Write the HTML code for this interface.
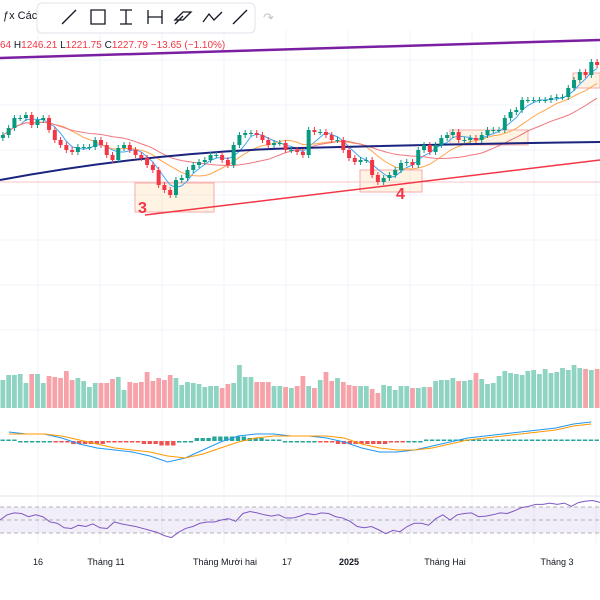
<!DOCTYPE html>
<html><head><meta charset="utf-8"><style>
body{margin:0;width:600px;height:600px;overflow:hidden;background:#fff;font-family:"Liberation Sans",sans-serif}
svg{position:absolute;left:0;top:0}
</style></head><body>
<svg id="c" width="600" height="600"></svg>
<script>
const closes=[1255,1262,1272,1272,1275,1265,1270,1272,1260,1250,1245,1240,1238,1243,1243,1243,1250,1245,1235,1230,1242,1245,1240,1235,1232,1225,1220,1205,1200,1195,1210,1212,1220,1225,1228,1230,1235,1235,1230,1225,1245,1255,1257,1257,1255,1250,1245,1247,1247,1240,1240,1238,1235,1260,1258,1258,1255,1250,1250,1240,1232,1228,1230,1230,1215,1208,1212,1215,1220,1227,1228,1225,1240,1245,1238,1245,1252,1255,1258,1250,1250,1252,1250,1255,1260,1260,1260,1272,1278,1280,1290,1290,1290,1290,1290,1292,1293,1293,1302,1310,1318,1315,1328,1325];
const volumes=[28,33,33,34,25,34,34,25,32,31,30,37,28,30,27,21,25,25,25,29,31,18,26,25,26,36,27,30,28,33,30,23,26,25,24,21,22,22,20,24,25,43,31,31,26,26,26,22,22,21,20,22,32,22,20,28,36,27,30,26,23,22,22,22,19,15,23,22,18,22,22,20,20,21,21,27,28,28,30,27,27,28,35,29,24,25,32,37,35,34,33,37,38,34,39,35,36,40,38,43,40,39,38,39];
const rsi=[50,58,61,60,55,58,55,47,45,38,37,42,40,44,38,37,47,44,42,40,37,34,31,26,23,31,37,40,45,47,47,50,52,48,60,63,61,58,56,58,53,53,56,60,58,61,60,55,53,48,40,38,40,35,29,34,32,40,45,45,42,52,58,50,58,60,61,55,56,58,61,60,64,69,71,74,74,76,74,76,71,77,79,80,77];
const macd=[4,3,3,1,-2,-4,-5,-6,-8,-11,-9,-5,-1,2,3,3,2,2,1,-1,-4,-6,-6,-5,-3,-1,1,2,3,4,5,6,8,9];
const signal=[3,3,3,2,0,-2,-4,-5,-6,-8,-9,-7,-4,-1,1,2,2,2,2,1,-2,-4,-5,-5,-4,-2,0,1,2,3,4,5,7,8];
const xLabels=[["16",38],["Tháng 11",106],["Tháng Mười hai",225],["17",287],["2025",349],["Tháng Hai",445],["Tháng 3",557]];
const NS="http://www.w3.org/2000/svg",svg=document.getElementById('c');
function el(t,a,p){const e=document.createElementNS(NS,t);for(const k in a)e.setAttribute(k,a[k]);(p||svg).appendChild(e);return e;}
const n=closes.length,dx=600/n;
const X=i=>i*dx+dx/2, Y=p=>1390-p;
const vY=v=>408-v, rY=v=>533-(v-30)/40*26, mY=v=>440-v*2;
for(let gx=38;gx<600;gx+=62){el('line',{x1:gx,y1:30,x2:gx,y2:545,stroke:'#f0f3fa'});}
for(let gy=60;gy<350;gy+=45){el('line',{x1:0,y1:gy,x2:600,y2:gy,stroke:'#f0f3fa'});}
el('line',{x1:0,y1:496,x2:600,y2:496,stroke:'#e0e3eb'});
[[135,183,79,29],[360,170,62,22],[450,130,78,15],[573,73,27,15]].forEach(b=>{const r=el('rect',{x:b[0],y:b[1],width:b[2],height:b[3],fill:'rgba(255,183,77,0.15)',stroke:'#f7a9a9','stroke-width':1});});
el('line',{x1:0,y1:182,x2:600,y2:182,stroke:'#f8c4c4'});
function sma(k){return closes.map((c,i)=>{const s=closes.slice(Math.max(0,i-k+1),i+1);return s.reduce((a,b)=>a+b,0)/s.length;});}
[[4,'#42a5f5'],[10,'#ffa54c'],[20,'#f0787f']].forEach(m=>{const a=sma(m[0]);const p=el('polyline',{points:a.map((v,i)=>X(i)+','+Y(v)).join(' '),fill:'none',stroke:m[1],'stroke-width':1});});
el('path',{d:'M0,180 Q150,152 300,148 T600,142',fill:'none',stroke:'#1a237e','stroke-width':2});
el('line',{x1:0,y1:58,x2:600,y2:40,stroke:'#7b1fa2','stroke-width':2.5});
el('line',{x1:145,y1:215,x2:600,y2:160,stroke:'#f23645','stroke-width':1.5});
closes.forEach((c,i)=>{const o=i?closes[i-1]:c-3;const up=c>=o;const col=up?'#089981':'#f23645';
 const hi=Math.max(o,c)+3,lo=Math.min(o,c)-3;
 el('line',{x1:X(i),y1:Y(hi),x2:X(i),y2:Y(lo),stroke:col});
 const r=el('rect',{x:X(i)-2,y:Y(Math.max(o,c)),width:4,height:Math.max(1,Math.abs(c-o)),fill:col});
 
 const v=el('rect',{x:X(i)-dx/2+0.5,y:vY(volumes[i]),width:dx-1,height:volumes[i],fill:up?'#8fd3c3':'#f7a1a8'});
 });
el('text',{x:138,y:213,fill:'#f23645','font-size':16,'font-weight':'bold'}).textContent='3';
el('text',{x:396,y:199,fill:'#f23645','font-size':16,'font-weight':'bold'}).textContent='4';
const mdx=600/macd.length;
macd.forEach((v,i)=>{const h=(v-signal[i])*1.5;for(let j=0;j<3;j++){const r=el('rect',{x:i*mdx+j*mdx/3+0.5,y:h>0?441-h:441,width:mdx/3-1.5,height:Math.max(1.5,Math.abs(h)),fill:h>=0?'#26a69a':'#ef5350'});}});
el('polyline',{points:macd.map((v,i)=>(i*mdx+mdx/2)+','+mY(v)).join(' '),fill:'none',stroke:'#2196f3'});
el('polyline',{points:signal.map((v,i)=>(i*mdx+mdx/2)+','+mY(v)).join(' '),fill:'none',stroke:'#ff9800'});
el('rect',{x:0,y:rY(70),width:600,height:rY(30)-rY(70),fill:'rgba(126,87,194,0.1)'});
[70,50,30].forEach(v=>el('line',{x1:0,y1:rY(v),x2:600,y2:rY(v),stroke:'#9e9e9e','stroke-dasharray':'4 3','stroke-width':0.8}));
const rdx=600/(rsi.length-1);
el('polyline',{points:rsi.map((v,i)=>(i*rdx)+','+rY(v)).join(' '),fill:'none',stroke:'#7e57c2'});
xLabels.forEach(l=>{const t=el('text',{x:l[1],y:565,'text-anchor':'middle','font-size':9,fill:'#131722','font-weight':l[0]=='2025'?'bold':'normal'});t.textContent=l[0];});
const hd=el('text',{x:0,y:48,'font-size':10,fill:'#f23645'});
hd.innerHTML='64 <tspan fill="#131722">H</tspan>1246.21 <tspan fill="#131722">L</tspan>1221.75 <tspan fill="#131722">C</tspan>1227.79 −13.65 (−1.10%)';
el('text',{x:3,y:19,'font-size':11,fill:'#131722'}).textContent='ƒx Các';
const tb=el('rect',{x:37,y:3,width:218,height:30,rx:5,fill:'#fff',stroke:'#e0e3eb'});
const ic=['M62,24 L76,10','M91,10 h14 v14 h-14z','M120,10 h12 M126,10 v14 M120,24 h12','M148,10 v14 M162,10 v14 M148,17 h14','M175,20 l8,-8 h8 l-8,8z M175,24 l8,-8','M203,22 l6,-8 l5,6 l8,-8','M233,24 l14,-14'];
ic.forEach((d,i)=>{const p=el('path',{d:d,fill:'none',stroke:'#131722','stroke-width':1.3});});
el('text',{x:263,y:22,'font-size':13,fill:'#c0c3cb'}).textContent='↷';
</script></body></html>
